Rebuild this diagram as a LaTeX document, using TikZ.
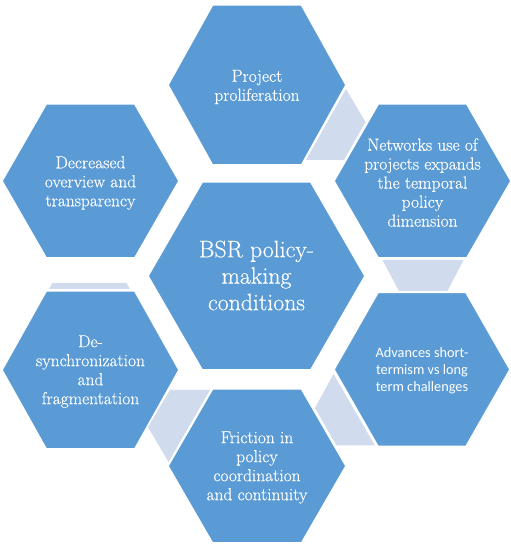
\documentclass[tikz,border=0pt]{standalone}
\usepackage{fontspec}
\newfontfamily\labelserif{Latin Modern Roman}[FakeBold=0.35]
\newfontfamily\labelsans{Carlito}

\definecolor{hexblue}{RGB}{91,155,213}
\definecolor{linkgrey}{RGB}{208,219,238}

% hexagon with flat top/bottom: half width #2, half height #3, centred on #1
\newcommand{\hexpath}[3]{(#1) ++(#2,0) -- ++(-#2/2,#3) -- ++(-#2,0) -- ++(-#2/2,-#3) -- ++(#2/2,-#3) -- ++(#2,0) -- cycle}

\tikzset{
  hexcell/.style={fill=hexblue, draw=white, line width=1.5pt, line join=miter},
  linkpiece/.style={fill=linkgrey, draw=none},
  cellfont/.style={text=white, align=center, inner sep=0pt, font=\labelserif\fontsize{17.4}{19}\selectfont},
  hubfont/.style={text=white, align=center, inner sep=0pt, font=\labelserif\fontsize{23.8}{26.5}\selectfont},
  sansfont/.style={text=white, align=center, inner sep=0pt, font=\labelsans\fontsize{14.3}{17.2}\selectfont},
}

\begin{document}
\begin{tikzpicture}[x=1pt,y=1pt]
  \useasboundingbox (0,0) rectangle (511,544);

  % cell centres
  \coordinate (cHub) at (256.5,268);
  \coordinate (cProj) at (257,459);
  \coordinate (cNet) at (422.5,363);
  \coordinate (cAdv) at (422,174.5);
  \coordinate (cFric) at (257,78);
  \coordinate (cDesync) at (90.5,174);
  \coordinate (cOver) at (90.5,363);

  % transition pieces in the gaps between neighbouring cells
  \fill[linkpiece] (346,455) -- (365.5,422) -- (344,384) -- (306,384) -- cycle;
  \fill[linkpiece] (382.5,284) -- (463.5,284) -- (447.5,253) -- (399,253) -- cycle;
  \fill[linkpiece] (333.5,170) -- (375,98.5) -- (336.5,98.5) -- (315,136) -- cycle;
  \fill[linkpiece] (170,154) -- (210,154) -- (168.5,82) -- (148,117) -- cycle;
  \fill[linkpiece] (52.5,261) -- (126.5,261) -- (130,255) -- (49,255) -- cycle;

  % hexagonal cells
  \path[hexcell] \hexpath{cHub}{108.5}{94};
  \path[hexcell] \hexpath{cProj}{89}{80};
  \path[hexcell] \hexpath{cNet}{88.5}{77};
  \path[hexcell] \hexpath{cAdv}{88}{77};
  \path[hexcell] \hexpath{cFric}{89}{77};
  \path[hexcell] \hexpath{cDesync}{88.5}{79};
  \path[hexcell] \hexpath{cOver}{88.5}{77};

  % labels
  \node[hubfont] (hub) at ([yshift=0.5pt]cHub) {BSR policy-\\making\\conditions};
  \node[cellfont] (proj) at ([yshift=-2pt]cProj) {Project\\proliferation};
  \node[cellfont] (net) at ([yshift=-1.5pt]cNet) {Networks use of\\projects expands\\the temporal\\policy\\dimension};
  \node[sansfont] (adv) at ([yshift=-1.5pt]cAdv) {Advances short-\\termism vs long\\term challenges};
  \node[cellfont] (fric) at ([yshift=-1.5pt]cFric) {Friction in\\policy\\coordination\\and continuity};
  \node[cellfont] (desync) at ([yshift=-1.5pt]cDesync) {De-\\synchronization\\and\\fragmentation};
  \node[cellfont] (over) at ([yshift=-2pt]cOver) {Decreased\\overview and\\transparency};
\end{tikzpicture}
\end{document}
